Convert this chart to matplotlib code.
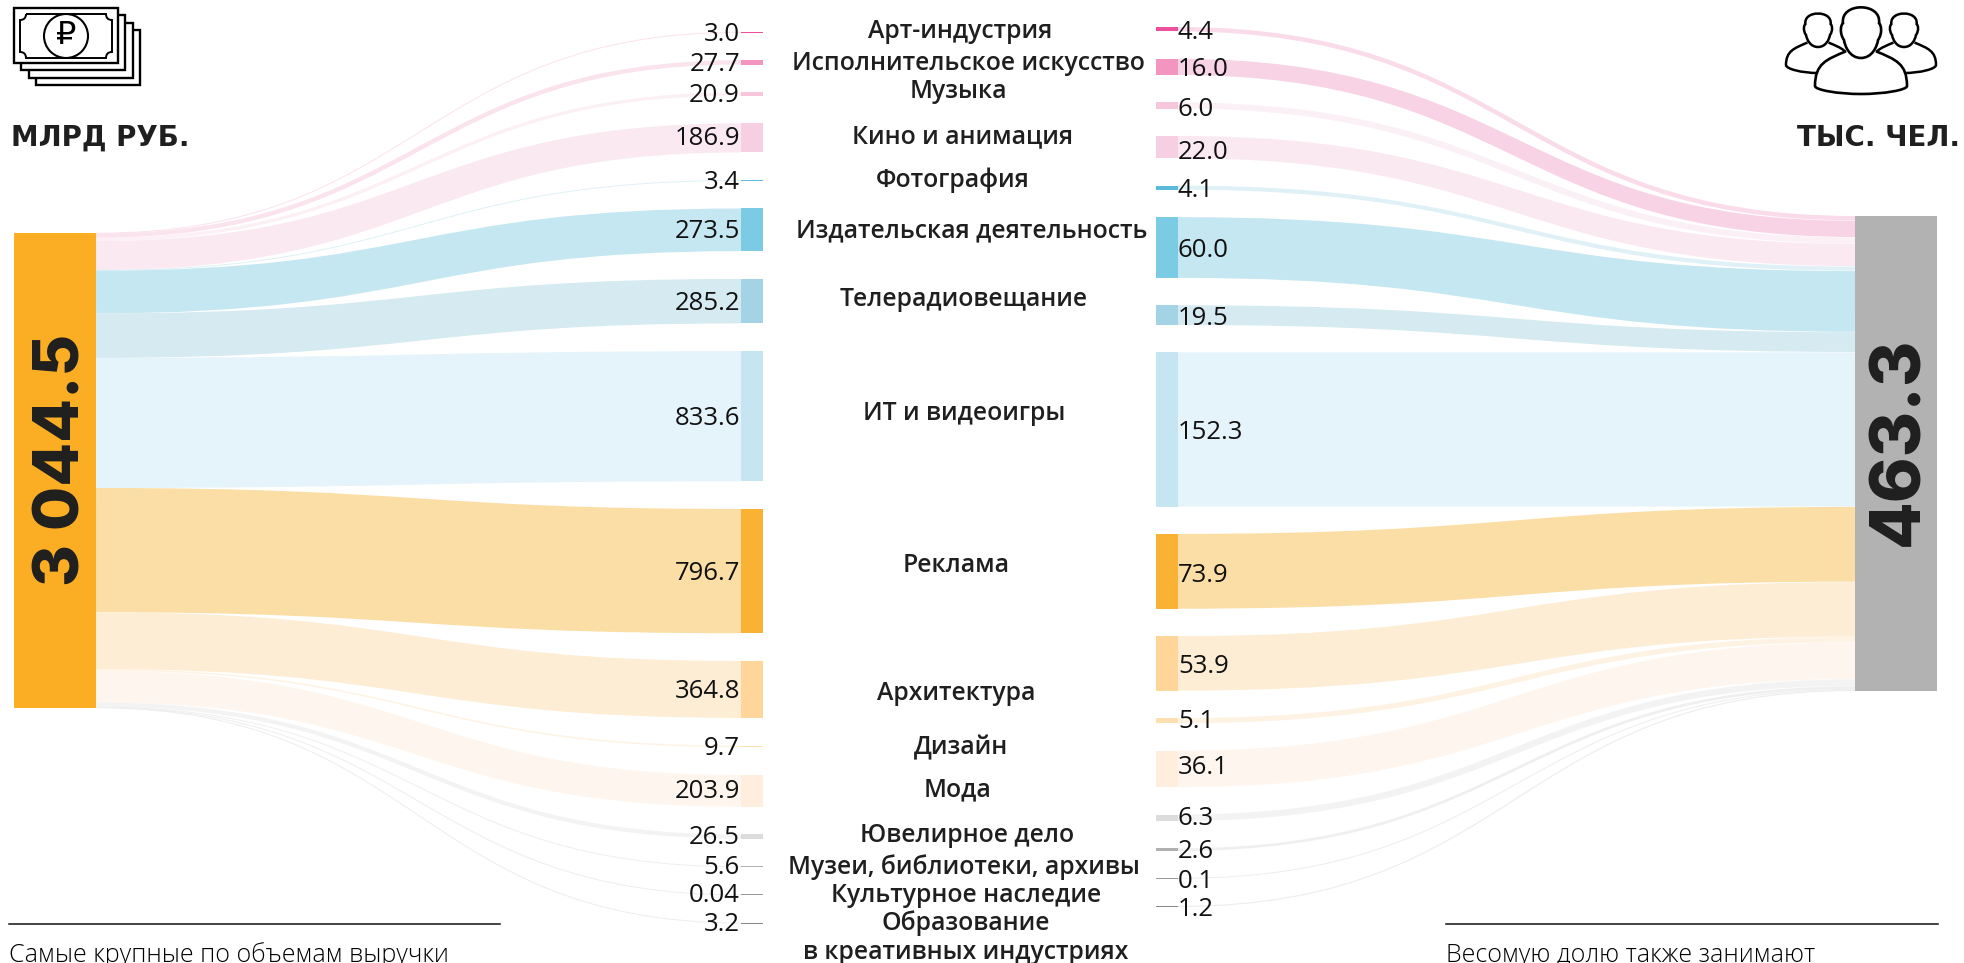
import matplotlib
matplotlib.use("Agg")
import matplotlib.pyplot as plt
from matplotlib.path import Path
from matplotlib.patches import PathPatch, Rectangle, Circle

plt.rcParams["font.family"] = ["Open Sans", "DejaVu Sans"]

# data
categories = ["Арт-индустрия", "Исполнительское искусство", "Музыка", "Кино и анимация",
              "Фотография", "Издательская деятельность", "Телерадиовещание", "ИТ и видеоигры",
              "Реклама", "Архитектура", "Дизайн", "Мода",
              "Ювелирное дело", "Музеи, библиотеки, архивы", "Культурное наследие",
              "Образование\nв креативных индустриях"]
revenue = [3.0, 27.7, 20.9, 186.9, 3.4, 273.5, 285.2, 833.6,
           796.7, 364.8, 9.7, 203.9, 26.5, 5.6, 0.04, 3.2]
revenue_labels = ["3.0", "27.7", "20.9", "186.9", "3.4", "273.5", "285.2", "833.6",
                  "796.7", "364.8", "9.7", "203.9", "26.5", "5.6", "0.04", "3.2"]
people = [4.4, 16.0, 6.0, 22.0, 4.1, 60.0, 19.5, 152.3,
          73.9, 53.9, 5.1, 36.1, 6.3, 2.6, 0.1, 1.2]
total_revenue = "3 044.5"
total_people = "463.3"
node_colors = ["#EC4F9C", "#F295BF", "#F7C6DD", "#F7CFE3",
               "#59BBD8", "#7ACBE3", "#A3D3E4", "#C5E5F3",
               "#F9B233", "#FFD59A", "#FFDFAF", "#FFEEDD",
               "#DCDCDC", "#B0B0B0", "#999999", "#888888"]
ribbon_left = ["#FBE3EE", "#FBE3EE", "#FCF0F5", "#FBE9F1",
               "#DFF1F7", "#C5E7F1", "#D5EAF1", "#E5F3FA",
               "#FBDEA6", "#FEEDD5", "#FEF3E3", "#FEF6EE",
               "#F3F3F3", "#EFEFEF", "#EEEEEE", "#EEEEEE"]
ribbon_right = ["#FADBE9", "#F8D2E5", "#FBF0F5", "#FBE9F1",
                "#DFF1F7", "#C5E7F1", "#D5EAF1", "#E5F3FA",
                "#FBDEA6", "#FEEDD5", "#FEF3E3", "#FEF6EE",
                "#F3F3F3", "#EFEFEF", "#EEEEEE", "#EEEEEE"]

# layout, in pixels of the 1964x963 canvas
fig = plt.figure(figsize=(19.64, 9.63), dpi=100)
ax = fig.add_axes([0, 0, 1, 1])
ax.set_xlim(0, 1964)
ax.set_ylim(963, 0)
ax.axis("off")

dark = "#1F1F1F"
SPAN = 475.0
left_x = (14, 96)
midl_x = (741, 763)
midr_x = (1156, 1178)
right_x = (1855, 1937)
left_top = 233
right_top = 216
midl_start, midl_gap = 32.0, 27.75
midr_start, midr_gap = 27.0, 27.4
rev_scale = SPAN / sum(revenue)
ppl_scale = 1.012
ppl_far_gap = (SPAN - sum(people) * ppl_scale) / 15
label_x = [960, 968, 958, 963, 953, 972, 964, 964, 956, 956, 961, 958, 967, 964, 966, 966]
label_y = [31, 63, 92, 137, 180, 231, 300, 414, 566, 693, 748, 790, 836, 867, 896, 938]
rev_shift = [-1, -1, -1, -2, -1, -1, -1, -1, -1, -1, -1, -2, -2, -2, -2, -2]
ppl_shift = [0, 0, 1, 2, 0, 0, 0, 0, 1, 0, -2, -4, -2, -1, 0, 0]


def ribbon(x0, y0, x1, y1, width, color):
    xm = (x0 + x1) / 2
    path = Path([(x0, y0), (xm, y0), (xm, y1), (x1, y1)],
                [Path.MOVETO, Path.CURVE4, Path.CURVE4, Path.CURVE4])
    ax.add_patch(PathPatch(path, fill=False, edgecolor=color,
                           linewidth=max(width, 1) * 0.72, capstyle="butt", zorder=1))


def sankey_side(values, start, gap, node_x, far_x, far_top, scale, far_gap, node_is_left, ribbons):
    y = start
    far_y = far_top
    centers = []
    for v, c, rc in zip(values, node_colors, ribbons):
        h = v * scale
        cy = y + h / 2
        fy = far_y + h / 2
        if node_is_left:
            ribbon(node_x[1], cy, far_x, fy, h, rc)
        else:
            ribbon(far_x, fy, node_x[0], cy, h, rc)
        draw_h = max(h, 1)
        ax.bar(node_x[0], draw_h, node_x[1] - node_x[0], bottom=cy - draw_h / 2,
               align="edge", color=c, linewidth=0, zorder=2)
        centers.append(cy)
        y += h + gap
        far_y += h + far_gap
    return centers


midl_c = sankey_side(revenue, midl_start, midl_gap, midl_x, left_x[1], left_top,
                     rev_scale, 0, False, ribbon_left)
midr_c = sankey_side(people, midr_start, midr_gap, midr_x, right_x[0], right_top,
                     ppl_scale, ppl_far_gap, True, ribbon_right)

# total bars
ax.add_patch(Rectangle((left_x[0], left_top), left_x[1] - left_x[0], SPAN,
                       facecolor="#FBAE24", linewidth=0, zorder=2))
ax.add_patch(Rectangle((right_x[0], right_top), right_x[1] - right_x[0], SPAN,
                       facecolor="#B2B2B2", linewidth=0, zorder=2))
ax.text(63, 460, total_revenue, rotation=90, ha="center", va="center", family="Inter",
        fontsize=46, fontweight="heavy", color=dark, zorder=3)
ax.text(1900, 441, total_people, rotation=90, ha="center", va="center", family="Inter",
        fontsize=50, fontweight="heavy", color=dark, zorder=3)

# value labels
for t, cy, s in zip(revenue_labels, midl_c, rev_shift):
    ax.text(740, cy + s, t, ha="right", va="center_baseline", fontsize=18.5,
            color="#111111", zorder=3)
for v, cy, s in zip(people, midr_c, ppl_shift):
    ax.text(1178, cy + s, f"{v:.1f}", ha="left", va="center_baseline", fontsize=18.5,
            color="#111111", zorder=3)

# category labels
for name, lx, ly in zip(categories, label_x, label_y):
    ax.text(lx, ly, name, ha="center", va="center", fontsize=17.8, fontweight="semibold",
            color=dark, linespacing=1.2, zorder=3)

# headers
ax.text(11, 146, "МЛРД РУБ.", ha="left", va="baseline", family="DejaVu Sans",
        fontsize=20, fontweight="bold", color=dark)
ax.text(1960, 146, "ТЫС. ЧЕЛ.", ha="right", va="baseline", family="DejaVu Sans",
        fontsize=20, fontweight="bold", color=dark)

# footer rules and cut off captions
ax.plot([9, 500], [924.5, 924.5], color="#111111", lw=1.1)
ax.plot([1446, 1938], [924.5, 924.5], color="#111111", lw=1.1)
ax.text(9, 962, "Самые крупные по объемам выручки", ha="left", va="baseline",
        fontsize=18, fontweight="light", color="black", clip_on=False)
ax.text(1446, 962, "Весомую долю также занимают", ha="left", va="baseline",
        fontsize=18, fontweight="light", color="black", clip_on=False)

# money icon
for dx in (22, 15, 7.5, 0):
    ax.add_patch(Rectangle((14 + dx, 8 + dx), 104, 55, facecolor="white",
                           edgecolor="black", linewidth=1.7, zorder=4))
r = 6
note = Path([(26, 14), (106, 14), (106, 14 + r), (112, 20), (112, 52), (106, 52), (106, 58),
             (26, 58), (26, 52), (20, 52), (20, 20), (26, 14 + r), (26, 14)],
            [Path.MOVETO, Path.LINETO, Path.CURVE3, Path.CURVE3, Path.LINETO, Path.CURVE3, Path.CURVE3,
             Path.LINETO, Path.CURVE3, Path.CURVE3, Path.LINETO, Path.CURVE3, Path.CURVE3])
ax.add_patch(PathPatch(note, fill=False, edgecolor="black", linewidth=1.4, zorder=5))
ax.add_patch(Circle((66, 36), 22, facecolor="white", edgecolor="black", linewidth=1.5, zorder=5))
ax.text(66, 36, "₽", family="DejaVu Sans", ha="center", va="center", fontsize=23, color="black", zorder=6)


# people icon
def person(cx, top, chin, head_w, sh_w, bottom, lw):
    hw = head_w / 2
    sw = sh_w / 2
    shy = chin - (chin - top) * 0.12
    head = Path([(cx, chin), (cx - hw * 0.55, chin), (cx - hw * 0.8, chin - (chin - top) * 0.2),
                 (cx - hw * 0.85, chin - (chin - top) * 0.32),
                 (cx - hw * 1.1, chin - (chin - top) * 0.45), (cx - hw, chin - (chin - top) * 0.6),
                 (cx - hw * 0.9, chin - (chin - top) * 0.62),
                 (cx - hw * 1.05, top), (cx + hw * 1.05, top), (cx + hw * 0.9, chin - (chin - top) * 0.62),
                 (cx + hw, chin - (chin - top) * 0.6), (cx + hw * 1.1, chin - (chin - top) * 0.45),
                 (cx + hw * 0.85, chin - (chin - top) * 0.32),
                 (cx + hw * 0.8, chin - (chin - top) * 0.2), (cx + hw * 0.55, chin), (cx, chin)],
                [Path.MOVETO] + [Path.CURVE4] * 15)
    body = Path([(cx - hw * 0.75, shy), (cx - sw * 0.75, shy + (bottom - shy) * 0.2),
                 (cx - sw * 1.0, shy + (bottom - shy) * 0.3), (cx - sw, bottom - 6),
                 (cx - sw, bottom - 2), (cx - sw * 0.5, bottom + 2), (cx, bottom + 2),
                 (cx + sw * 0.5, bottom + 2), (cx + sw, bottom - 2), (cx + sw, bottom - 6),
                 (cx + sw * 1.0, shy + (bottom - shy) * 0.3), (cx + sw * 0.75, shy + (bottom - shy) * 0.2),
                 (cx + hw * 0.75, shy)],
                [Path.MOVETO] + [Path.CURVE4] * 12)
    ax.add_patch(PathPatch(body, facecolor="white", edgecolor="black", linewidth=lw, zorder=4))
    ax.add_patch(PathPatch(head, facecolor="white", edgecolor="black", linewidth=lw, zorder=4))


person(1818, 10, 47, 28, 64, 71, 1.8)
person(1904, 10, 47, 28, 64, 71, 1.8)
person(1861, 2, 58, 40, 92, 92, 1.9)

fig.savefig("out.png", dpi=100)
